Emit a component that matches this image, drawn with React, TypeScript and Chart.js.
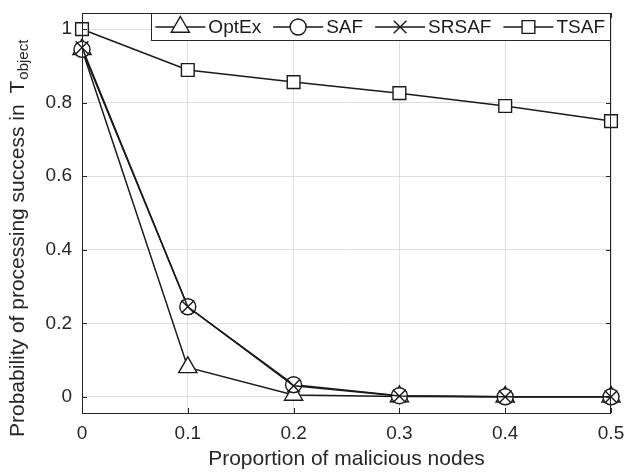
import React, { useEffect, useRef } from "react";
import { Chart, registerables } from "chart.js";

Chart.register(...registerables);

const xValues = [0, 0.1, 0.2, 0.3, 0.4, 0.5];
const optEx = [0.945, 0.08, 0.005, 0.001, 0, 0];
const saf = [0.945, 0.245, 0.033, 0.003, 0, 0];
const srsaf = [0.95, 0.245, 0.03, 0.002, 0, 0];
const tsaf = [1.0, 0.889, 0.856, 0.826, 0.791, 0.75];
const seriesLabels = ["OptEx", "SAF", "SRSAF", "TSAF"];
const seriesMarkers = ["triangle", "circle", "crossRot", "rect"];
const markerRadii = [10.5, 8, 9, 9];
const xTickValues = [0, 0.1, 0.2, 0.3, 0.4, 0.5];
const xTickLabels = ["0", "0.1", "0.2", "0.3", "0.4", "0.5"];
const yTickValues = [0, 0.2, 0.4, 0.6, 0.8, 1];
const yTickLabels = ["0", "0.2", "0.4", "0.6", "0.8", "1"];
const xTitle = "Proportion of malicious nodes";
const yTitleMain = "Probability of processing success in ";
const yTitleSymbol = "T";
const yTitleSub = "object";

const FONT = '"Liberation Sans", Arial, Helvetica, sans-serif';
const LINE = "#1a1a1a";
const AXIS = "#262626";
const GRID = "#dedede";

function drawMarker(ctx: CanvasRenderingContext2D, style: string, x: number, y: number, r: number) {
  ctx.beginPath();
  if (style === "circle") {
    ctx.arc(x, y, r, 0, Math.PI * 2);
    ctx.fill();
    ctx.stroke();
  } else if (style === "rect") {
    const s = Math.SQRT1_2 * r;
    ctx.rect(x - s, y - s, 2 * s, 2 * s);
    ctx.fill();
    ctx.stroke();
  } else if (style === "triangle") {
    let rad = 0;
    ctx.moveTo(x + Math.sin(rad) * r, y - Math.cos(rad) * r);
    rad += (2 * Math.PI) / 3;
    ctx.lineTo(x + Math.sin(rad) * r, y - Math.cos(rad) * r);
    rad += (2 * Math.PI) / 3;
    ctx.lineTo(x + Math.sin(rad) * r, y - Math.cos(rad) * r);
    ctx.closePath();
    ctx.fill();
    ctx.stroke();
  } else if (style === "crossRot") {
    const o = Math.SQRT1_2 * r;
    ctx.moveTo(x - o, y - o);
    ctx.lineTo(x + o, y + o);
    ctx.moveTo(x - o, y + o);
    ctx.lineTo(x + o, y - o);
    ctx.stroke();
  }
}

const framePlugin = {
  id: "framePlugin",
  afterDatasetsDraw(chart: any) {
    const { ctx, chartArea } = chart;
    const { left, right, top, bottom } = chartArea;
    const xs = chart.scales.x;
    const ys = chart.scales.y;
    ctx.save();
    ctx.strokeStyle = AXIS;
    ctx.lineWidth = 1;
    ctx.strokeRect(left + 0.5, top + 0.5, right - left - 1, bottom - top);
    const tl = 5;
    ctx.beginPath();
    xTickValues.forEach((v) => {
      const px = Math.round(xs.getPixelForValue(v)) + 0.5;
      ctx.moveTo(px, bottom);
      ctx.lineTo(px, bottom - tl);
      ctx.moveTo(px, top);
      ctx.lineTo(px, top + tl);
    });
    yTickValues.forEach((v) => {
      const py = Math.round(ys.getPixelForValue(v)) + 0.5;
      ctx.moveTo(left, py);
      ctx.lineTo(left + tl, py);
      ctx.moveTo(right, py);
      ctx.lineTo(right - tl, py);
    });
    ctx.stroke();
    ctx.restore();
  },
  afterDraw(chart: any) {
    const { ctx, chartArea } = chart;
    const { left, right, top } = chartArea;
    ctx.save();
    // Legend
    const lf = 19;
    ctx.font = `${lf}px ${FONT}`;
    const sampleW = 50;
    const gapText = 3;
    const gapEntry = 12;
    const padL = 4;
    const padR = 6;
    const widths = chart.data.datasets.map((d: any) => ctx.measureText(d.label).width);
    const total = padL + padR + widths.reduce((a: number, w: number) => a + sampleW + gapText + w, 0) + gapEntry * (widths.length - 1);
    const lx = right - total;
    const ly = top;
    const lh = 27;
    ctx.fillStyle = "#ffffff";
    ctx.fillRect(lx, ly, total, lh);
    ctx.strokeStyle = AXIS;
    ctx.lineWidth = 1;
    ctx.strokeRect(Math.round(lx) + 0.5, ly + 0.5, Math.round(total) - 1, lh);
    let cx = lx + padL;
    const cy = ly + lh / 2 + 0.5;
    chart.data.datasets.forEach((d: any, i: number) => {
      ctx.strokeStyle = LINE;
      ctx.lineWidth = 1.5;
      ctx.beginPath();
      ctx.moveTo(cx, cy);
      ctx.lineTo(cx + sampleW, cy);
      ctx.stroke();
      ctx.fillStyle = "#ffffff";
      ctx.lineWidth = 1.4;
      drawMarker(ctx, d.pointStyle, cx + sampleW / 2, cy, d.pointRadius);
      ctx.fillStyle = "#1a1a1a";
      ctx.textAlign = "left";
      ctx.textBaseline = "middle";
      ctx.fillText(d.label, cx + sampleW + gapText, cy + 1);
      cx += sampleW + gapText + widths[i] + gapEntry;
    });
    // X title
    ctx.fillStyle = "#262626";
    ctx.font = `21px ${FONT}`;
    ctx.textAlign = "center";
    ctx.textBaseline = "alphabetic";
    ctx.fillText(xTitle, (left + right) / 2, 465);
    // Y title
    ctx.translate(24, 437);
    ctx.rotate(-Math.PI / 2);
    ctx.textAlign = "left";
    ctx.font = `21px ${FONT}`;
    ctx.fillText(yTitleMain, 0, 0);
    let w = ctx.measureText(yTitleMain).width + 5;
    ctx.fillText(yTitleSymbol, w, 0);
    w += ctx.measureText(yTitleSymbol).width + 1;
    ctx.font = `15px ${FONT}`;
    ctx.fillText(yTitleSub, w, 4);
    ctx.restore();
  },
};

export default function App() {
  const ref = useRef<HTMLCanvasElement | null>(null);
  useEffect(() => {
    document.body.style.margin = "0";
    const canvas = ref.current!;
    const series = [optEx, saf, srsaf, tsaf];
    const chart = new Chart(canvas, {
      type: "line",
      data: {
        datasets: series.map((s, i) => ({
          label: seriesLabels[i],
          data: xValues.map((x, j) => ({ x, y: s[j] })),
          borderColor: LINE,
          borderWidth: 1.5,
          pointStyle: seriesMarkers[i] as any,
          pointRadius: markerRadii[i],
          pointBorderWidth: 1.4,
          pointBorderColor: LINE,
          pointBackgroundColor: "#ffffff",
          fill: false,
          tension: 0,
          clip: false as any,
          order: series.length - i,
        })),
      },
      options: {
        responsive: false,
        devicePixelRatio: 1,
        animation: false,
        events: [],
        layout: { padding: { top: 13, right: 13, left: 0, bottom: 0 } },
        plugins: { legend: { display: false }, tooltip: { enabled: false } },
        scales: {
          x: {
            type: "linear",
            min: 0,
            max: 0.5,
            afterBuildTicks: (s: any) => {
              s.ticks = xTickValues.map((v) => ({ value: v }));
            },
            afterFit: (s: any) => {
              s.height = 59;
              s.paddingLeft = 0;
              s.paddingRight = 0;
              s.paddingTop = 0;
              s.paddingBottom = 0;
            },
            ticks: {
              callback: (_v: any, i: number) => xTickLabels[i],
              font: { family: FONT, size: 19 },
              color: "#262626",
              padding: 9,
              maxRotation: 0,
              autoSkip: false,
            },
            grid: { color: GRID, drawTicks: false, lineWidth: 1 },
            border: { display: false },
          },
          y: {
            type: "linear",
            min: -0.044,
            max: 1.044,
            afterBuildTicks: (s: any) => {
              s.ticks = yTickValues.map((v) => ({ value: v }));
            },
            afterFit: (s: any) => {
              s.width = 82;
              s.paddingLeft = 0;
              s.paddingRight = 0;
              s.paddingTop = 0;
              s.paddingBottom = 0;
            },
            ticks: {
              callback: (_v: any, i: number) => yTickLabels[i],
              font: { family: FONT, size: 19 },
              color: "#262626",
              padding: 10,
              autoSkip: false,
            },
            grid: { color: GRID, drawTicks: false, lineWidth: 1 },
            border: { display: false },
          },
        },
      },
      plugins: [framePlugin],
    });
    return () => chart.destroy();
  }, []);
  return <canvas ref={ref} width={624} height={472} style={{ display: "block" }} />;
}
